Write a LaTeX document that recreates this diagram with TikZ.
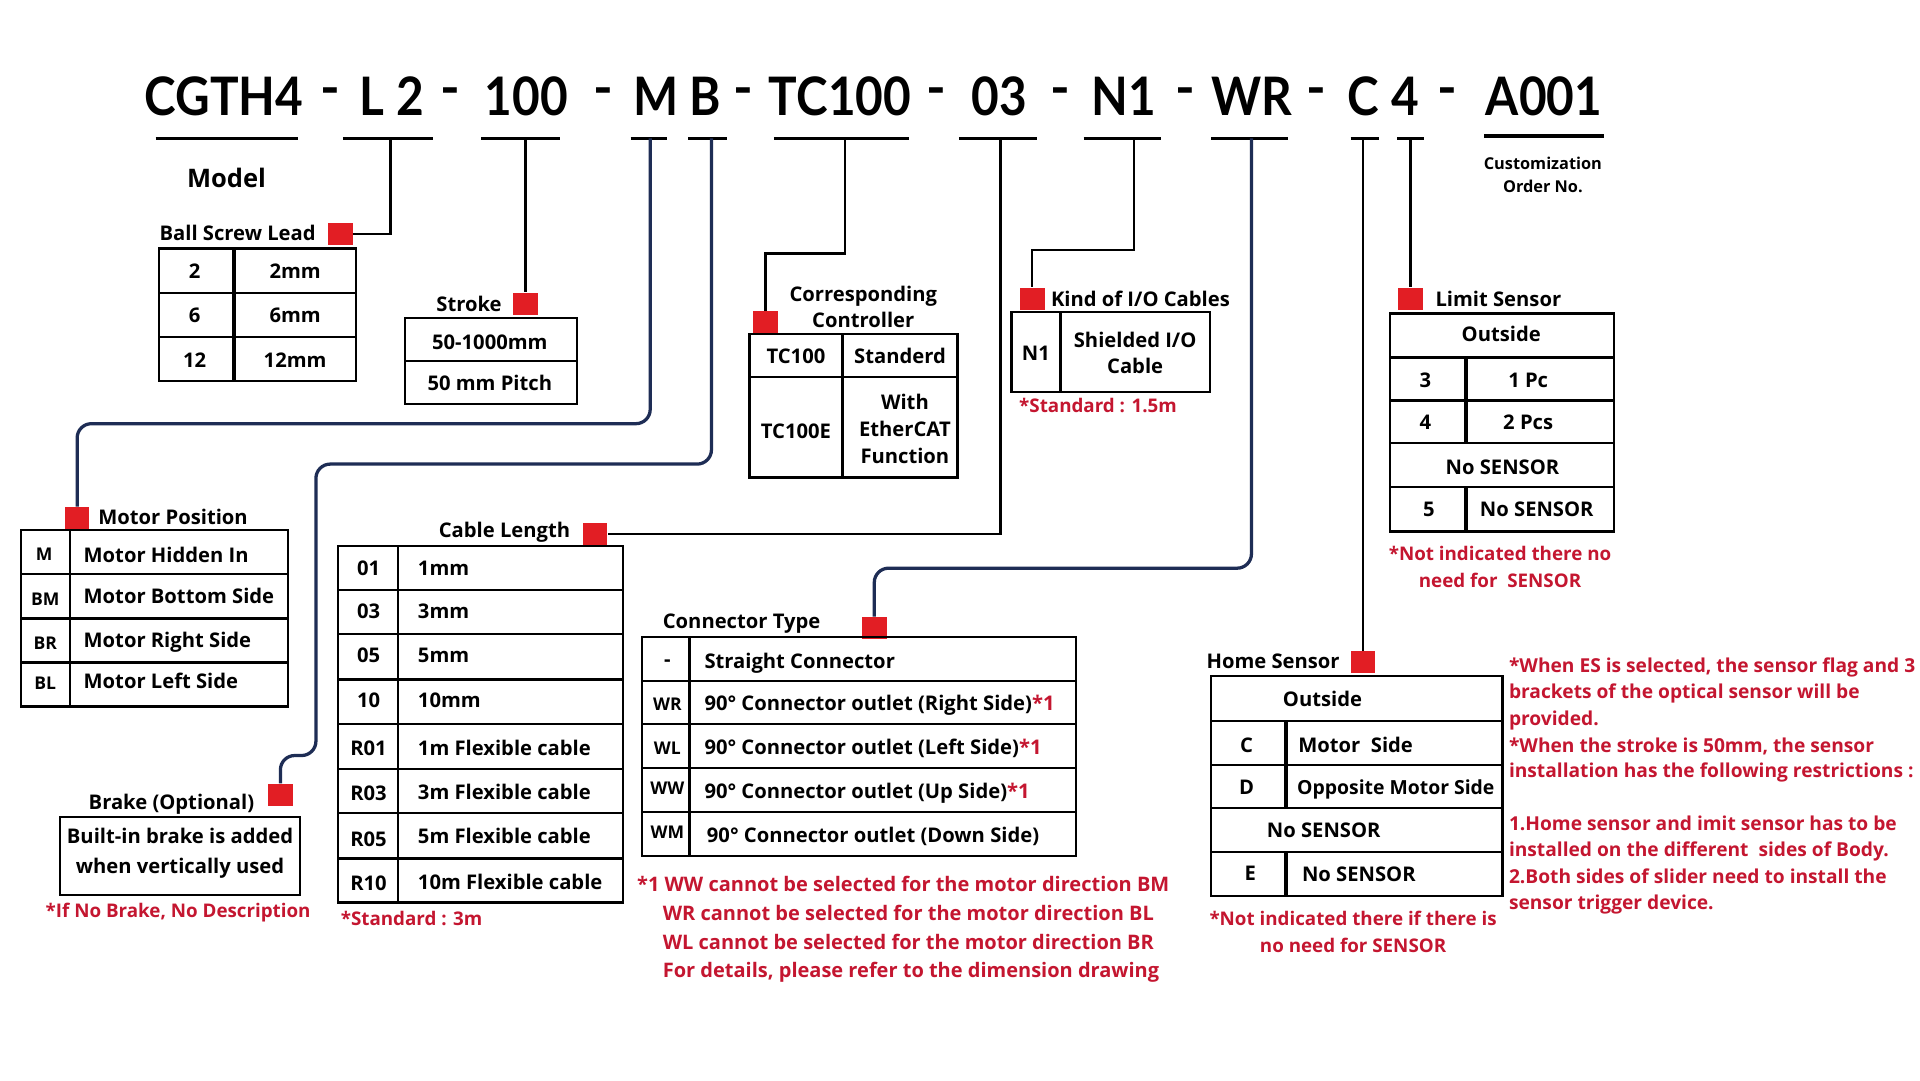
\documentclass[tikz,border=0pt]{standalone}
\usepackage{fontspec}
\setmainfont{Open Sans}
\newfontfamily\latof{Lato}
\definecolor{sqred}{RGB}{226,30,36}
\definecolor{notered}{RGB}{196,22,48}
\definecolor{navy}{RGB}{30,45,85}
\newcommand\bodyf{\fontsize{9.9}{12}\selectfont\bfseries}
\newcommand\notef{\fontsize{9.2}{12}\selectfont\bfseries}
\newcommand\wnotef{\fontsize{9.8}{12}\selectfont\bfseries}
\newcommand\rnotef{\fontsize{9.4}{11}\selectfont\bfseries}
\newcommand\smallf{\fontsize{8.0}{10}\selectfont\bfseries}
\newcommand\codef{\fontsize{8.6}{10}\selectfont\bfseries}
\newcommand\modelf{\fontsize{12.5}{15}\selectfont\bfseries}
\newcommand\titlef{\latof\fontsize{26}{30}\selectfont\bfseries}
\newcommand\ttx[1]{\scalebox{0.9}[1]{#1}}
\begin{document}
\begin{tikzpicture}[x=0.6pt,y=-0.6pt,
  tb/.style={draw=black,line width=1.1pt},
  sp/.style={draw=black,line width=1.8pt},
  t/.style={font=\bodyf,inner sep=0pt,anchor=mid,yshift=-1pt},
  tl/.style={font=\bodyf,inner sep=0pt,anchor=mid west,yshift=-1pt},
  nt/.style={font=\notef,text=notered,inner sep=0pt,anchor=mid west,yshift=-1pt},
  ntc/.style={font=\notef,text=notered,inner sep=0pt,anchor=mid,yshift=-1pt},
  wn/.style={font=\wnotef,text=notered,inner sep=0pt,anchor=mid west,yshift=-1pt},
  rn/.style={font=\rnotef,text=notered,inner sep=0pt,anchor=mid west,yshift=-1pt},
  sq/.style={fill=sqred,minimum width=12pt,minimum height=10.8pt,inner sep=0pt},
  con/.style={draw=black,line width=1.2pt},
  ncon/.style={draw=navy,line width=1.6pt,rounded corners=7pt},
  ul/.style={draw=black,line width=1.8pt},
  ttl/.style={font=\titlef,inner sep=0pt,anchor=base},
]
\useasboundingbox[fill=white] (0,0) rectangle (1568,882);

% ---------- title ----------
\node[ttl] (tCG) at (183,94) {\ttx{CGTH4}};
\node[ttl] (d1) at (270,87) {-};
\node[ttl] (tL) at (304,94) {\ttx{L}};
\node[ttl] (t2) at (335,94) {\ttx{2}};
\node[ttl] (d2) at (368,87) {-};
\node[ttl] (t100) at (430,94) {\ttx{100}};
\node[ttl] (d3) at (493,87) {-};
\node[ttl] (tM) at (536,94) {\ttx{M}};
\node[ttl] (tB) at (576,94) {\ttx{B}};
\node[ttl] (d4) at (607,87) {-};
\node[ttl] (tTC) at (686,94) {\ttx{TC100}};
\node[ttl] (d5) at (765,87) {-};
\node[ttl] (t03) at (816,94) {\ttx{03}};
\node[ttl] (d6) at (866,87) {-};
\node[ttl] (tN1) at (918,94) {\ttx{N1}};
\node[ttl] (d7) at (968,87) {-};
\node[ttl] (tWR) at (1022,94) {\ttx{WR}};
\node[ttl] (d8) at (1075,87) {-};
\node[ttl] (tC) at (1113,94) {\ttx{C}};
\node[ttl] (t4) at (1148,94) {\ttx{4}};
\node[ttl] (d9) at (1182,87) {-};
\node[ttl] (tA) at (1261,94) {\ttx{A001}};

% underlines
\draw[ul] (127,113)--(243,113);
\draw[ul] (280,113)--(354,113);
\draw[ul] (393,113)--(457,113);
\draw[ul] (515,113)--(545,113);
\draw[ul] (562,113)--(594,113);
\draw[ul] (632,113)--(742,113);
\draw[ul] (783,113)--(847,113);
\draw[ul] (885,113)--(948,113);
\draw[ul] (989,113)--(1052,113);
\draw[ul] (1103,113)--(1126,113);
\draw[ul] (1141,113)--(1163,113);
\draw[ul] (1212,111)--(1310,111);
\coordinate (uL) at (319,113);
\coordinate (u100) at (429,113);
\coordinate (uM) at (531,113);
\coordinate (uB) at (581,113);
\coordinate (uTC) at (690,113);
\coordinate (u03) at (817,113);
\coordinate (uN1) at (926,113);
\coordinate (uWR) at (1022,113);
\coordinate (uC) at (1113,113);
\coordinate (u4) at (1152,113);

\node[font=\modelf,inner sep=0pt,anchor=mid,yshift=-1pt] (model) at (185,147) {Model};
\node[font=\smallf,inner sep=0pt,anchor=mid] (cust1) at (1260,134) {Customization};
\node[font=\smallf,inner sep=0pt,anchor=mid] (cust2) at (1260,153) {Order No.};

% ---------- red squares ----------
\node[sq] (sqL) at (278,191) {};
\node[sq] (sqS) at (429,248) {};
\node[sq] (sqM) at (63,423) {};
\node[sq] (sqB) at (229,649) {};
\node[sq] (sqT) at (625,263) {};
\node[sq] (sqC) at (486,436) {};
\node[sq] (sqN) at (843,244) {};
\node[sq] (sqW) at (714,513) {};
\node[sq] (sqH) at (1113,541) {};
\node[sq] (sqLim) at (1152,244) {};

% ---------- connectors ----------
\draw[con] (uL) |- (sqL.east);
\draw[con] (u100) -- (sqS.north);
\draw[ncon] (uM) -- (531,346) -- (63,346) -- (sqM.north);
\draw[ncon] (uB) -- (581,379) -- (258,379) -- (258,617) -- (229,617) -- (sqB.north);
\draw[con] (uTC) -- (690,207) -- (625,207) -- (sqT.north);
\draw[con] (u03) |- (sqC.east);
\draw[con] (uN1) -- (926,204) -- (843,204) -- (sqN.north);
\draw[ncon] (uWR) -- (1022,464) -- (714,464) -- (sqW.north);
\draw[con] (uC) -- (sqH.north);
\draw[con] (u4) -- (sqLim.north);

% ---------- Ball Screw Lead ----------
\node[tl] (lblL) at (130,190) {Ball Screw Lead};
\draw[tb] (130,203) rectangle (291,311);
\draw[tb] (130,239)--(291,239) (130,275)--(291,275);
\draw[sp] (191,203)--(191,311);
\node[t] (l1a) at (159,221) {2};   \node[t] (l1b) at (241,221) {2mm};
\node[t] (l2a) at (159,257) {6};   \node[t] (l2b) at (241,257) {6mm};
\node[t] (l3a) at (159,294) {12};  \node[t] (l3b) at (241,294) {12mm};

% ---------- Stroke ----------
\node[t] (lblS) at (383,248) {Stroke};
\draw[tb] (331,260) rectangle (471,330);
\draw[tb] (331,295)--(471,295);
\node[t] (s1) at (400,279) {50-1000mm};
\node[t] (s2) at (400,313) {50 mm Pitch};

% ---------- Motor Position ----------
\node[tl] (lblM) at (80,422) {Motor Position};
\draw[tb] (17,433) rectangle (235,577);
\draw[tb] (17,469)--(235,469) (17,505)--(235,505) (17,541)--(235,541);
\draw[tb] (57,433)--(57,577);
\node[t,font=\codef] (m1a) at (36,452) {M};
\node[t,font=\codef] (m2a) at (37,488) {BM};
\node[t,font=\codef] (m3a) at (37,524) {BR};
\node[t,font=\codef] (m4a) at (37,557) {BL};
\node[tl] (m1b) at (68,453) {Motor Hidden In};
\node[tl] (m2b) at (68,487) {Motor Bottom Side};
\node[tl] (m3b) at (68,523) {Motor Right Side};
\node[tl] (m4b) at (68,556) {Motor Left Side};

% ---------- Brake ----------
\node[t] (lblB) at (140,655) {Brake (Optional)};
\draw[tb] (49,667) rectangle (245,731);
\node[t] (b1) at (147,683) {Built-in brake is added};
\node[t] (b2) at (147,707) {when vertically used};
\node[nt] (bn) at (37,743) {*If No Brake, No Description};

% ---------- Corresponding Controller ----------
\node[t] (lblT1) at (705,240) {Corresponding};
\node[t] (lblT2) at (705,261) {Controller};
\draw[tb] (612,273) rectangle (782,390);
\draw[tb] (612,308)--(782,308);
\draw[sp] (688,273)--(688,390);
\node[t] (c1a) at (650,291) {TC100};
\node[t] (c1b) at (735,291) {Standerd};
\node[t] (c2a) at (650,352) {TC100E};
\node[t] (c2b) at (739,328) {With};
\node[t] (c2c) at (739,350) {EtherCAT};
\node[t] (c2d) at (739,372) {Function};

% ---------- Cable Length ----------
\node[t] (lblC) at (412,433) {Cable Length};
\draw[tb] (276,446) rectangle (509,737);
\foreach \yy in {482,518,555,591,628,664,701} \draw[tb] (276,\yy)--(509,\yy);
\draw[tb] (325,446)--(325,737);
\node[t] (k1a) at (301,464) {01};  \node[tl] (k1b) at (341,464) {1mm};
\node[t] (k2a) at (301,499) {03};  \node[tl] (k2b) at (341,499) {3mm};
\node[t] (k3a) at (301,535) {05};  \node[tl] (k3b) at (341,535) {5mm};
\node[t] (k4a) at (301,572) {10};  \node[tl] (k4b) at (341,572) {10mm};
\node[t] (k5a) at (301,611) {R01}; \node[tl] (k5b) at (341,611) {1m Flexible cable};
\node[t] (k6a) at (301,648) {R03}; \node[tl] (k6b) at (341,647) {3m Flexible cable};
\node[t] (k7a) at (301,685) {R05}; \node[tl] (k7b) at (341,683) {5m Flexible cable};
\node[t] (k8a) at (301,721) {R10}; \node[tl] (k8b) at (341,720) {10m Flexible cable};
\node[nt] (kn) at (278,750) {*Standard : 3m};

% ---------- Kind of I/O Cables ----------
\node[tl] (lblN) at (858,244) {Kind of I/O Cables};
\draw[tb] (826,255) rectangle (988,320);
\draw[sp] (866,255)--(866,320);
\node[t] (n1a) at (846,288) {N1};
\node[t] (n1b) at (927,278) {Shielded I/O};
\node[t] (n1c) at (927,299) {Cable};
\node[nt] (nn) at (832,331) {*Standard : 1.5m};

% ---------- Connector Type ----------
\node[tl] (lblW) at (541,507) {Connector Type};
\draw[tb] (524,520) rectangle (879,699);
\foreach \yy in {556,591,627,663} \draw[tb] (524,\yy)--(879,\yy);
\draw[tb] (563,520)--(563,699);
\node[t] (w1a) at (545,538) {-};
\node[t,font=\codef] (w2a) at (545,574) {WR};
\node[t,font=\codef] (w3a) at (545,610) {WL};
\node[t,font=\codef] (w4a) at (545,643) {WW};
\node[t,font=\codef] (w5a) at (545,679) {WM};
\node[tl] (w1b) at (575,540) {Straight Connector};
\node[tl] (w2b) at (575,574) {90° Connector outlet (Right Side)\textcolor{notered}{*1}};
\node[tl] (w3b) at (575,610) {90° Connector outlet (Left Side)\textcolor{notered}{*1}};
\node[tl] (w4b) at (575,646) {90° Connector outlet (Up Side)\textcolor{notered}{*1}};
\node[tl] (w5b) at (577,682) {90° Connector outlet (Down Side)};
\node[wn] (wn1) at (520,722) {*1 WW cannot be selected for the motor direction BM};
\node[wn] (wn2) at (541,746) {WR cannot be selected for the motor direction BL};
\node[wn] (wn3) at (541,769) {WL cannot be selected for the motor direction BR};
\node[wn] (wn4) at (541,792) {For details, please refer to the dimension drawing};

% ---------- Home Sensor ----------
\node[tl] (lblH) at (985,540) {Home Sensor};
\draw[tb] (989,552) rectangle (1227,732);
\foreach \yy in {589,625,660,696} \draw[tb] (989,\yy)--(1227,\yy);
\draw[sp] (1050,589)--(1050,660) (1050,696)--(1050,732);
\node[t] (h0) at (1080,571) {Outside};
\node[t] (h1a) at (1018,608) {C};  \node[tl] (h1b) at (1060,608) {Motor\ \ Side};
\node[t] (h2a) at (1018,643) {D};  \node[tl,font=\fontsize{9.5}{12}\selectfont\bfseries] (h2b) at (1059,643) {Opposite Motor Side};
\node[t] (h3) at (1081,678) {No SENSOR};
\node[t] (h4a) at (1021,713) {E};  \node[tl] (h4b) at (1063,714) {No SENSOR};
\node[ntc] (hn1) at (1105,750) {*Not indicated there if there is};
\node[ntc] (hn2) at (1105,772) {no need for SENSOR};

% ---------- Limit Sensor ----------
\node[tl] (lblLim) at (1172,244) {Limit Sensor};
\draw[tb] (1135,256) rectangle (1318,434);
\foreach \yy in {292,327,362,398} \draw[tb] (1135,\yy)--(1318,\yy);
\draw[sp] (1197,292)--(1197,362) (1197,398)--(1197,434);
\node[t] (g0) at (1226,273) {Outside};
\node[t] (g1a) at (1164,310) {3}; \node[t] (g1b) at (1248,310) {1 Pc};
\node[t] (g2a) at (1164,345) {4}; \node[t] (g2b) at (1248,345) {2 Pcs};
\node[t] (g3) at (1227,381) {No SENSOR};
\node[t] (g4a) at (1167,416) {5}; \node[t] (g4b) at (1255,416) {No SENSOR};
\node[ntc] (gn1) at (1225,452) {*Not indicated there no};
\node[ntc] (gn2) at (1225,474) {need for\ \ SENSOR};

% ---------- right notes ----------
\node[rn] (r1) at (1232,543) {*When ES is selected, the sensor flag and 3};
\node[rn] (r2) at (1232,564) {brackets of the optical sensor will be};
\node[rn] (r3) at (1232,586) {provided.};
\node[rn] (r4) at (1232,608) {*When the stroke is 50mm, the sensor};
\node[rn] (r5) at (1232,629) {installation has the following restrictions :};
\node[rn] (r6) at (1232,672) {1.Home sensor and imit sensor has to be};
\node[rn] (r7) at (1232,693) {installed on the different\ \ sides of Body.};
\node[rn] (r8) at (1232,715) {2.Both sides of slider need to install the};
\node[rn] (r9) at (1232,737) {sensor trigger device.};
\end{tikzpicture}
\end{document}
